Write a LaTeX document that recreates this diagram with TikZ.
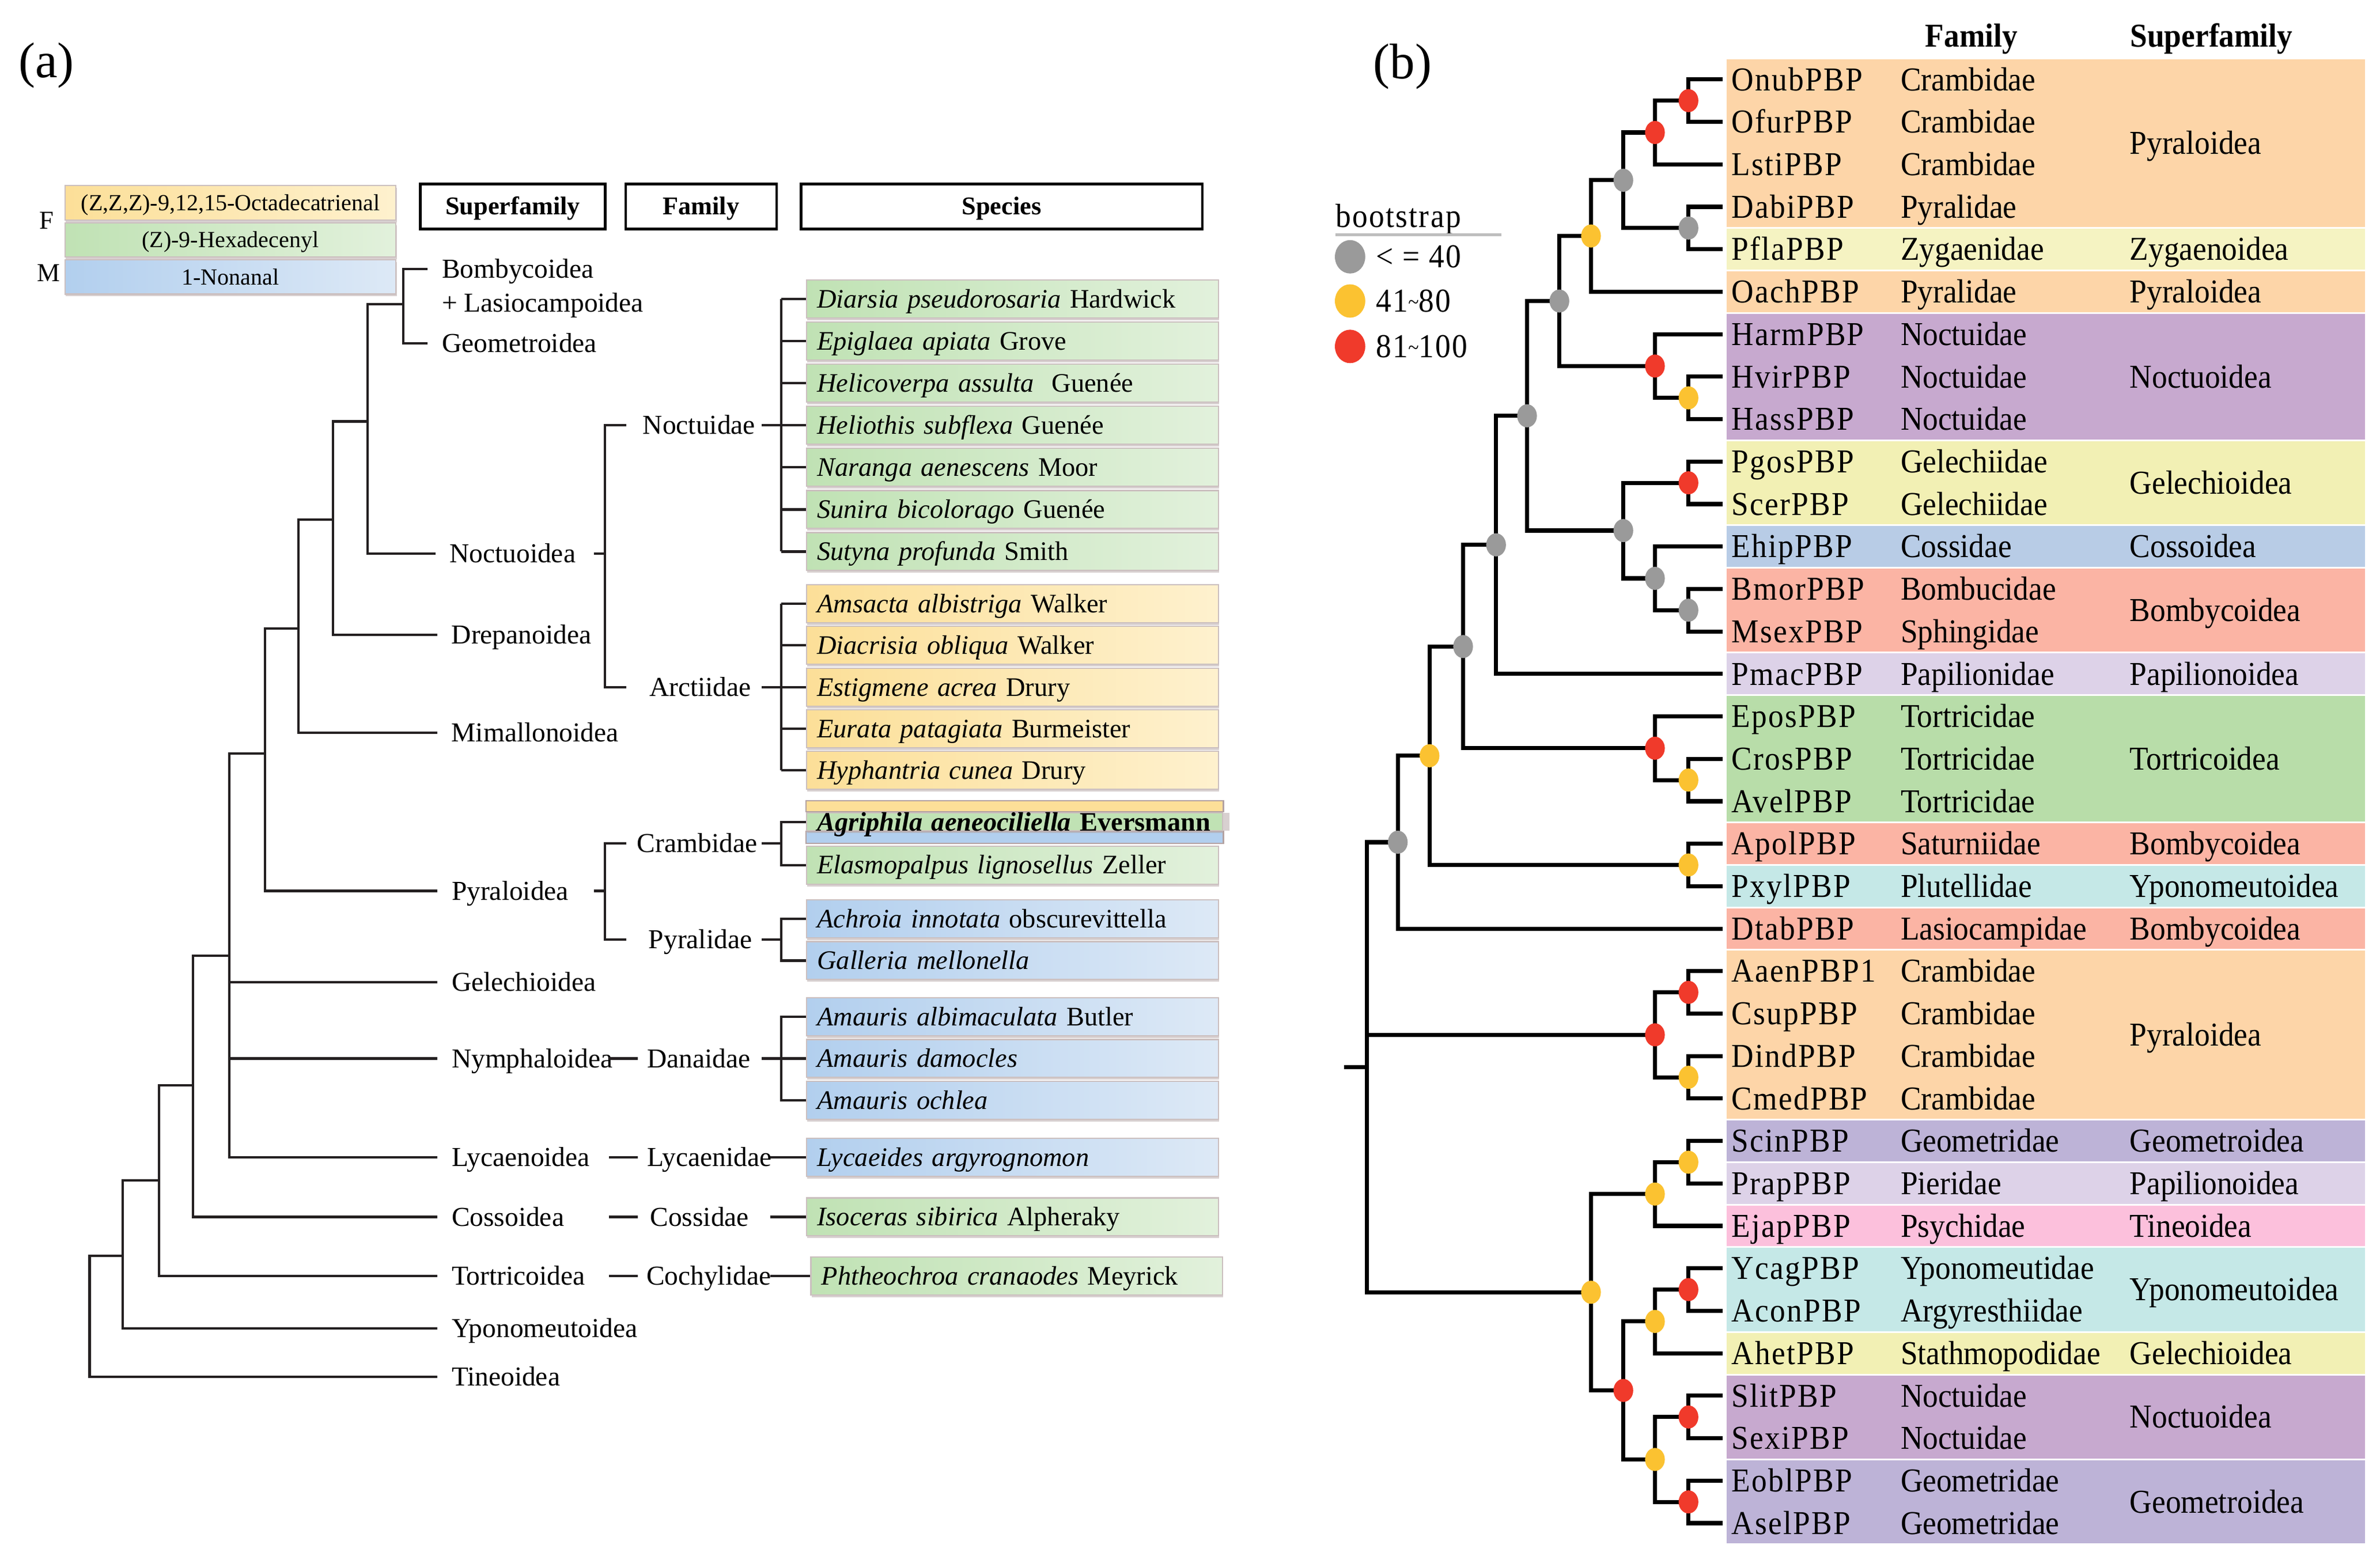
\documentclass[tikz,border=0pt]{standalone}
\usepackage{fontspec}
\setmainfont{Liberation Serif}
\newfontfamily\bfont{Liberation Serif}[FakeStretch=0.92]
\newfontfamily\idfont{Liberation Serif}[FakeStretch=0.92,LetterSpace=4]
\usetikzlibrary{calc, positioning, shapes.geometric, shadows}

\definecolor{linec}{HTML}{231F20}
\definecolor{grnL}{HTML}{C0E2B4}
\definecolor{grnR}{HTML}{E2F1DC}
\definecolor{ylwL}{HTML}{FCDF98}
\definecolor{ylwR}{HTML}{FEF1CE}
\definecolor{bluL}{HTML}{B2CFEE}
\definecolor{bluR}{HTML}{DDE9F6}
\definecolor{boxline}{HTML}{CBBFBF}
\definecolor{shadowc}{HTML}{B3A2A2}
% superfamily bands (b)
\definecolor{peach}{HTML}{FDD5A8}
\definecolor{zygylw}{HTML}{F5F3C2}
\definecolor{gelylw}{HTML}{F2F0B4}
\definecolor{noctpur}{HTML}{C7A9CF}
\definecolor{cossblu}{HTML}{B8CCE6}
\definecolor{bombsal}{HTML}{FBB4A4}
\definecolor{papilav}{HTML}{DDD2E8}
\definecolor{tortgrn}{HTML}{B8DDA9}
\definecolor{yponcyn}{HTML}{C5E8E7}
\definecolor{geompur}{HTML}{BDB3D7}
\definecolor{tinepnk}{HTML}{FCC0DC}
% bootstrap
\definecolor{bgrey}{HTML}{9A9A9A}
\definecolor{bylw}{HTML}{FBC231}
\definecolor{bred}{HTML}{F03A2B}
\definecolor{ulgrey}{HTML}{BDBDBD}

\newcommand\fA{\fontsize{9}{11}\selectfont}
\newcommand\fS{\fontsize{8.8}{10.5}\selectfont}
\newcommand\fL{\fontsize{7.6}{9}\selectfont}
\newcommand\fH{\fontsize{8.4}{10}\selectfont}
\newcommand\fB{\fontsize{11}{13}\selectfont}
\newcommand\fP{\fontsize{16.5}{19}\selectfont}

\tikzset{
  tree/.style={line width=0.8pt, draw=linec},
  branch/.style={line width=1.35pt, draw=black},
  sflbl/.style={inner sep=0pt, anchor=west, font=\fA, text height=5.96pt, text depth=0pt},
  spbox/.style={anchor=west, minimum height=12.5pt, text width=128.6pt, inner xsep=3.45pt,
    inner ysep=0pt, align=left, draw=boxline, line width=0.4pt, font=\fS,
    text height=5.83pt, text depth=0pt,
    drop shadow={shadow xshift=0.25pt, shadow yshift=-0.75pt, fill=shadowc}},
  spgreen/.style={spbox, left color=grnL, right color=grnR},
  spyellow/.style={spbox, left color=ylwL, right color=ylwR},
  spblue/.style={spbox, left color=bluL, right color=bluR},
  legbox/.style={minimum width=109pt, minimum height=11.25pt, inner sep=0pt, draw=boxline,
    line width=0.4pt, font=\fL, text height=5.03pt, text depth=0pt,
    drop shadow={shadow xshift=0.25pt, shadow yshift=-0.75pt, fill=shadowc}},
  hdrbox/.style={draw=black, line width=0.9pt, minimum height=14.8pt, inner sep=0pt,
    font=\fH\bfseries, text height=5.56pt, text depth=0pt},
  idlbl/.style={anchor=west, inner xsep=2.8pt, inner ysep=0pt, font=\fB\idfont,
    text height=7.28pt, text depth=0pt},
  famb/.style={anchor=west, inner sep=0pt, font=\fB\bfont, text height=7.28pt, text depth=0pt},
  boot/.style={ellipse, minimum width=6.5pt, minimum height=7.6pt, inner sep=0pt, fill=#1},
  bootkey/.style={ellipse, minimum width=10pt, minimum height=11pt, inner sep=0pt, fill=#1},
}

% one clade of tree (b): name, level, first child, second child
\newcommand\clade[4]{%
  \path ($(#3)!.5!(#4)$) coordinate (#1m);
  \coordinate (#1) at (#2 |- #1m);
  \draw[branch] (#3) -| (#1) |- (#4);}

\begin{document}
\begin{tikzpicture}[x=0.5pt, y=-0.5pt]
\fill[white] (0,0) rectangle (1567,1027);
\useasboundingbox (0,0) rectangle (1567,1027);

% ---------------- (a) ----------------
\node[font=\fP] (pa) at (30.5,43) {(a)};

% pheromone key
\node[legbox, left color=ylwL, right color=ylwR] (kF1) at (151.7,133.5) {(Z,Z,Z)-9,12,15-Octadecatrienal};
\node[legbox, left color=grnL, right color=grnR] (kF2) at (151.7,157.9) {(Z)-9-Hexadecenyl};
\node[legbox, left color=bluL, right color=bluR] (kM) at (151.7,182.4) {1-Nonanal};
\node[font=\fontsize{8.5}{10}\selectfont] (lF) at (30.6,145.1) {F};
\node[font=\fontsize{8.5}{10}\selectfont] (lM) at (32,179.9) {M};

% column heads
\node[hdrbox, minimum width=60.8pt] (hsup) at (337.6,135.9) {Superfamily};
\node[hdrbox, minimum width=49.7pt] (hfam) at (461.6,135.9) {Family};
\node[hdrbox, minimum width=132.1pt] (hspe) at (659.5,135.9) {Species};

% superfamilies
\node[sflbl] (bomb) at (290.6,177) {Bombycoidea};
\node[sflbl] (lasio) at (290.6,199.5) {+ Lasiocampoidea};
\node[sflbl] (geom) at (290.6,226) {Geometroidea};
\node[sflbl] (noct) at (295.6,364.6) {Noctuoidea};
\node[sflbl] (drep) at (296.9,417.9) {Drepanoidea};
\node[sflbl] (mimal) at (296.9,482.6) {Mimallonoidea};
\node[sflbl] (pyra) at (297,586.6) {Pyraloidea};
\node[sflbl] (gelech) at (297,646.7) {Gelechioidea};
\node[sflbl] (nymph) at (297,697) {Nymphaloidea};
\node[sflbl] (lycae) at (297,762) {Lycaenoidea};
\node[sflbl] (coss) at (297,801.3) {Cossoidea};
\node[sflbl] (tort) at (297,840.3) {Tortricoidea};
\node[sflbl] (ypon) at (297,874.7) {Yponomeutoidea};
\node[sflbl] (tine) at (297,906.6) {Tineoidea};

% superfamily tree
\coordinate (a1) at (265.4,200.2);
\coordinate (a2) at (241.9,277.5);
\coordinate (a3) at (219.3,342.2);
\coordinate (a4) at (196.4,413.8);
\coordinate (a5) at (174.6,496.2);
\coordinate (a6) at (150.9,629.3);
\coordinate (a7) at (127.2,714.7);
\coordinate (a8) at (104.7,777.3);
\coordinate (a9) at (80.8,826.8);
\coordinate (a10) at (59,826.8);
\draw[tree] ([xshift=-4.5pt]bomb.west) -| (a1) |- ([xshift=-4.5pt]geom.west);
\draw[tree] (a1) -| (a2) |- ([xshift=-4.5pt]noct.west);
\draw[tree] (a2) -| (a3) |- ([xshift=-4.5pt]drep.west);
\draw[tree] (a3) -| (a4) |- ([xshift=-4.5pt]mimal.west);
\draw[tree] (a4) -| (a5) |- ([xshift=-4.5pt]pyra.west);
\draw[tree] (a5) -| (a6) |- ([xshift=-4.5pt]lycae.west);
\draw[tree] (a6 |- gelech.west) -- ([xshift=-4.5pt]gelech.west);
\draw[tree] (a6 |- nymph.west) -- ([xshift=-4.5pt]nymph.west);
\draw[tree] (a6) -| (a7) |- ([xshift=-4.5pt]coss.west);
\draw[tree] (a7) -| (a8) |- ([xshift=-4.5pt]tort.west);
\draw[tree] (a8) -| (a9) |- ([xshift=-4.5pt]ypon.west);
\draw[tree] (a9) -| (a10) |- ([xshift=-4.5pt]tine.west);

% families
\node[sflbl] (noctuidae) at (422.9,280) {Noctuidae};
\node[sflbl] (arctiidae) at (427.2,452.4) {Arctiidae};
\node[sflbl] (crambidae) at (419.1,555.4) {Crambidae};
\node[sflbl] (pyralidae) at (426.7,618.75) {Pyralidae};
\node[sflbl] (danaidae) at (425.8,697) {Danaidae};
\node[sflbl] (lycaenidae) at (425.8,762) {Lycaenidae};
\node[sflbl] (cossidae) at (427.7,801.3) {Cossidae};
\node[sflbl] (cochylidae) at (425.2,840.3) {Cochylidae};

\coordinate (fbt) at (391,0);
\coordinate (fbx) at (398.3,0);
\coordinate (ftick) at (412.5,0);
\coordinate (dashx) at (401,0);
\coordinate (dashe) at (420,0);
\coordinate (lnx) at (501.5,0);
\coordinate (lnx2) at (507,0);
\coordinate (spx) at (514.3,0);

\draw[tree] (fbt |- noct.west) -- (fbx |- noct.west);
\draw[tree] (ftick |- noctuidae.west) -| (fbx |- arctiidae.west) -- (ftick |- arctiidae.west);
\draw[tree] (fbt |- pyra.west) -- (fbx |- pyra.west);
\draw[tree] (ftick |- crambidae.west) -| (fbx |- pyralidae.west) -- (ftick |- pyralidae.west);
\foreach \s/\f in {nymph/danaidae, lycae/lycaenidae, coss/cossidae, tort/cochylidae}
  \draw[tree] (dashx |- \s.west) -- (dashe |- \f.west);

% species
\node[spgreen] (noc1) at (530.7,196.8) {\textit{Diarsia pseudorosaria} Hardwick};
\node[spgreen] (noc2) at (530.7,224.5) {\textit{Epiglaea apiata} Grove};
\node[spgreen] (noc3) at (530.7,252.3) {\textit{Helicoverpa assulta}\ \ Guenée};
\node[spgreen] (noc4) at (530.7,280) {\textit{Heliothis subflexa} Guenée};
\node[spgreen] (noc5) at (530.7,307.7) {\textit{Naranga aenescens} Moor};
\node[spgreen] (noc6) at (530.7,335.5) {\textit{Sunira bicolorago} Guenée};
\node[spgreen] (noc7) at (530.7,363.2) {\textit{Sutyna profunda} Smith};
\node[spyellow] (arc1) at (530.7,397.5) {\textit{Amsacta albistriga} Walker};
\node[spyellow] (arc2) at (530.7,424.9) {\textit{Diacrisia obliqua} Walker};
\node[spyellow] (arc3) at (530.7,452.4) {\textit{Estigmene acrea} Drury};
\node[spyellow] (arc4) at (530.7,479.8) {\textit{Eurata patagiata} Burmeister};
\node[spyellow] (arc5) at (530.7,507.3) {\textit{Hyphantria cunea} Drury};
% three-coloured row
\filldraw[fill=ylwL, draw=shadowc, line width=0.4pt] (530.7,527.2) rectangle (805.5,534.5);
\filldraw[fill=bluL, draw=shadowc, line width=0.4pt] (530.7,547.2) rectangle (805.5,555.2);
\node[spbox, left color=grnL, right color=grnL, minimum height=4.4pt, text width=130pt,
  drop shadow={shadow yshift=0pt, fill=shadowc}] (cra1) at (530.7,541.2)
  {\textbf{\textit{Agriphila aeneociliella} Eversmann}};
\node[spgreen] (cra2) at (530.7,569.6) {\textit{Elasmopalpus lignosellus} Zeller};
\node[spblue] (pyr1) at (530.7,605) {\textit{Achroia innotata} obscurevittella};
\node[spblue] (pyr2) at (530.7,632.5) {\textit{Galleria mellonella}};
\node[spblue] (dan1) at (530.7,669.5) {\textit{Amauris albimaculata} Butler};
\node[spblue] (dan2) at (530.7,697) {\textit{Amauris damocles}};
\node[spblue] (dan3) at (530.7,724.6) {\textit{Amauris ochlea}};
\node[spblue] (lyc) at (530.7,762) {\textit{Lycaeides argyrognomon}};
\node[spgreen] (cos) at (530.7,801.3) {\textit{Isoceras sibirica} Alpheraky};
\node[spgreen] (coc) at (533.5,840.3) {\textit{Phtheochroa cranaodes} Meyrick};

% family-species links
\draw[tree] (spx |- noc1.west) -- (spx |- noc7.west);
\foreach \s in {noc1,noc2,noc3,noc4,noc5,noc6,noc7} \draw[tree] (spx |- \s.west) -- (\s.west);
\draw[tree] (lnx |- noctuidae.east) -- (noc4.west);
\draw[tree] (spx |- arc1.west) -- (spx |- arc5.west);
\foreach \s in {arc1,arc2,arc3,arc4,arc5} \draw[tree] (spx |- \s.west) -- (\s.west);
\draw[tree] (lnx |- arctiidae.east) -- (arc3.west);
\draw[tree] (cra1.west) -| (spx |- cra2.west) -- (cra2.west);
\draw[tree] (lnx |- crambidae.east) -- (spx |- crambidae.east);
\draw[tree] (pyr1.west) -| (spx |- pyr2.west) -- (pyr2.west);
\draw[tree] (lnx |- pyralidae.east) -- (spx |- pyralidae.east);
\draw[tree] (dan1.west) -| (spx |- dan3.west) -- (dan3.west);
\draw[tree] (lnx |- danaidae.east) -- (dan2.west);
\draw[tree] (lnx2 |- lycaenidae.east) -- (lyc.west);
\draw[tree] (lnx2 |- cossidae.east) -- (cos.west);
\draw[tree] (lnx2 |- cochylidae.east) -- (coc.west);

% ---------------- (b) ----------------
\node[font=\fP] (pb) at (923.4,44) {(b)};
\node[famb, anchor=center, font=\fB\bfont\bfseries] (hbfam) at (1298,23.6) {Family};
\node[famb, anchor=center, font=\fB\bfont\bfseries] (hbsup) at (1456,23.6) {Superfamily};

% superfamily bands
\foreach \ra/\rb/\col/\sf in {0/3/peach/Pyraloidea, 4/4/zygylw/Zygaenoidea, 5/5/peach/Pyraloidea,
    6/8/noctpur/Noctuoidea, 9/10/gelylw/Gelechioidea, 11/11/cossblu/Cossoidea,
    12/13/bombsal/Bombycoidea, 14/14/papilav/Papilionoidea, 15/17/tortgrn/Tortricoidea,
    18/18/bombsal/Bombycoidea, 19/19/yponcyn/Yponomeutoidea, 20/20/bombsal/Bombycoidea,
    21/24/peach/Pyraloidea, 25/25/geompur/Geometroidea, 26/26/papilav/Papilionoidea,
    27/27/tinepnk/Tineoidea, 28/29/yponcyn/Yponomeutoidea, 30/30/gelylw/Gelechioidea,
    31/32/noctpur/Noctuoidea, 33/34/geompur/Geometroidea}{
  \fill[\col] (1137,{52.3+27.96*\ra-13.4}) rectangle (1557,{52.3+27.96*\rb+13.4});
  \node[famb] (sf\ra) at (1401.9,{52.3+27.96*(\ra+\rb)/2}) {\sf};
}

% proteins and families
\foreach \id/\fam [count=\i from 0] in {OnubPBP/Crambidae, OfurPBP/Crambidae, LstiPBP/Crambidae,
    DabiPBP/Pyralidae, PflaPBP/Zygaenidae, OachPBP/Pyralidae, HarmPBP/Noctuidae,
    HvirPBP/Noctuidae, HassPBP/Noctuidae, PgosPBP/Gelechiidae, ScerPBP/Gelechiidae,
    EhipPBP/Cossidae, BmorPBP/Bombucidae, MsexPBP/Sphingidae, PmacPBP/Papilionidae,
    EposPBP/Tortricidae, CrosPBP/Tortricidae, AvelPBP/Tortricidae, ApolPBP/Saturniidae,
    PxylPBP/Plutellidae, DtabPBP/Lasiocampidae, AaenPBP1/Crambidae, CsupPBP/Crambidae,
    DindPBP/Crambidae, CmedPBP/Crambidae, ScinPBP/Geometridae, PrapPBP/Pieridae,
    EjapPBP/Psychidae, YcagPBP/Yponomeutidae, AconPBP/Argyresthiidae,
    AhetPBP/Stathmopodidae, SlitPBP/Noctuidae, SexiPBP/Noctuidae, EoblPBP/Geometridae,
    AselPBP/Geometridae}{
  \node[idlbl] (id\i) at (1134,{52.3+27.96*\i}) {\id};
  \node[famb] (fam\i) at (1251,{52.3+27.96*\i}) {\fam};
}

% tree levels
\foreach \l/\x in {0/900, 1/920.3, 2/941.2, 3/963.3, 4/985, 5/1005.4, 6/1026.7,
    7/1047.5, 8/1068.8, 9/1089.6, 10/1111.7}
  \coordinate (L\l) at (\x,0);
\coordinate (stem) at (884.9,0);

\clade{nA}{L10}{id0.west}{id1.west}
\clade{nB}{L9}{nA}{id2.west}
\clade{nC}{L10}{id3.west}{id4.west}
\clade{nD}{L8}{nB}{nC}
\clade{nE}{L7}{nD}{id5.west}
\clade{nF}{L10}{id7.west}{id8.west}
\clade{nG}{L9}{id6.west}{nF}
\clade{nH}{L6}{nE}{nG}
\clade{nI}{L10}{id9.west}{id10.west}
\clade{nJ}{L10}{id12.west}{id13.west}
\clade{nK}{L9}{id11.west}{nJ}
\clade{nL}{L8}{nI}{nK}
\clade{nM}{L5}{nH}{nL}
\clade{nN}{L4}{nM}{id14.west}
\clade{nO}{L10}{id16.west}{id17.west}
\clade{nP}{L9}{id15.west}{nO}
\clade{nQ}{L3}{nN}{nP}
\clade{nR}{L10}{id18.west}{id19.west}
\clade{nS}{L2}{nQ}{nR}
\clade{nT}{L1}{nS}{id20.west}
\clade{nU}{L10}{id21.west}{id22.west}
\clade{nV}{L10}{id23.west}{id24.west}
\clade{nW}{L9}{nU}{nV}
\clade{nX}{L10}{id25.west}{id26.west}
\clade{nY}{L9}{nX}{id27.west}
\clade{nZ}{L10}{id28.west}{id29.west}
\clade{nAA}{L9}{nZ}{id30.west}
\clade{nAB}{L10}{id31.west}{id32.west}
\clade{nAC}{L10}{id33.west}{id34.west}
\clade{nAD}{L9}{nAB}{nAC}
\clade{nAE}{L8}{nAA}{nAD}
\clade{nAF}{L7}{nY}{nAE}
\clade{root}{L0}{nT}{nAF}
\draw[branch] (root |- nW) -- (nW);
\draw[branch] (stem |- root) -- (root);

% bootstrap support
\foreach \n/\c in {nA/bred, nB/bred, nC/bgrey, nD/bgrey, nE/bylw, nF/bylw, nG/bred,
    nH/bgrey, nI/bred, nJ/bgrey, nK/bgrey, nL/bgrey, nM/bgrey, nN/bgrey, nO/bylw,
    nP/bred, nQ/bgrey, nR/bylw, nS/bylw, nT/bgrey, nU/bred, nV/bylw, nW/bred,
    nX/bylw, nY/bylw, nZ/bred, nAA/bylw, nAB/bred, nAC/bred, nAD/bylw, nAE/bred, nAF/bylw}
  \node[boot=\c] (b\n) at (\n) {};

% bootstrap key
\node[idlbl, anchor=base west, inner sep=0pt] (bslab) at (879.1,149.5) {bootstrap};
\draw[line width=1.1pt, ulgrey] (bslab.south west |- 0,154.6) -- (988.6,154.6);
\node[bootkey=bgrey] (k1) at (888.9,169.1) {};
\node[bootkey=bylw] (k2) at (888.9,198.2) {};
\node[bootkey=bred] (k3) at (888.9,228.1) {};
\node[idlbl, inner sep=0pt] (k1t) at (905.7,169.1) {< = 40};
\node[idlbl, inner sep=0pt] (k2t) at (905.7,198.2) {41\raisebox{0.2ex}{\scriptsize\textasciitilde}80};
\node[idlbl, inner sep=0pt] (k3t) at (905.7,228.1) {81\raisebox{0.2ex}{\scriptsize\textasciitilde}100};
\end{tikzpicture}
\end{document}
